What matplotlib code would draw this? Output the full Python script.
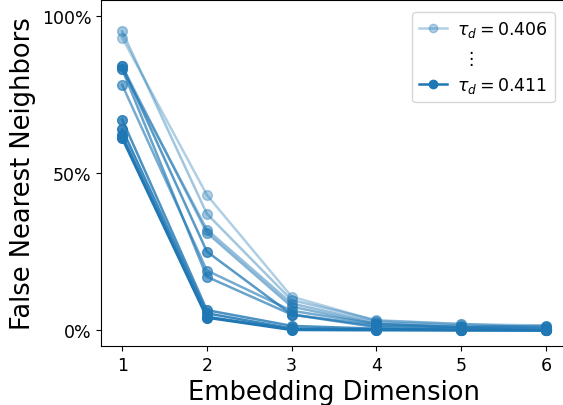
import numpy as np
import matplotlib
matplotlib.use("Agg")
import matplotlib.pyplot as plt
from matplotlib.lines import Line2D

dims = [1, 2, 3, 4, 5, 6]
taus = [0.406, 0.4065, 0.407, 0.4075, 0.408, 0.4085, 0.409, 0.4095, 0.410, 0.4105, 0.411]

fnn_0406 = [93, 43, 10.7, 3.0, 2.0, 1.5]
fnn_04065 = [95, 37, 9.6, 3.2, 2.0, 1.0]
fnn_0407 = [83, 32, 8.5, 2.5, 1.5, 1.0]
fnn_04075 = [84, 31, 7.5, 2.0, 1.0, 1.5]
fnn_0408 = [78, 19, 6.2, 2.0, 1.0, 0.5]
fnn_04085 = [83, 17, 5.0, 1.5, 1.0, 0.5]
fnn_0409 = [84, 25, 5.0, 1.0, 0.5, 0.0]
fnn_04095 = [67, 6.4, 1.4, 0.5, 0.2, 0.0]
fnn_0410 = [64, 5.4, 0.6, 0.3, 0.1, 0.0]
fnn_04105 = [62, 4.3, 0.3, 0.2, 0.0, 0.0]
fnn_0411 = [61, 4.0, 0.1, 0.0, 0.0, 0.0]

series = [fnn_0406, fnn_04065, fnn_0407, fnn_04075, fnn_0408, fnn_04085,
          fnn_0409, fnn_04095, fnn_0410, fnn_04105, fnn_0411]

color = "#1f77b4"
alphas = np.linspace(0.35, 1.0, len(series))

fig = plt.figure(figsize=(5.63, 4.06), dpi=100)
ax = fig.add_axes([101 / 563, 59 / 406, 466 / 563, 346 / 406])

for vals, a in zip(series, alphas):
    ax.plot(dims, vals, "-o", color=color, alpha=a, lw=1.8, markersize=7)

ax.set_xlim(0.75, 6.25)
ax.set_ylim(-5, 105)
ax.set_xticks(dims)
ax.set_yticks([0, 50, 100])
ax.set_yticklabels(["0%", "50%", "100%"])
ax.tick_params(labelsize=12.5)
ax.set_xlabel("Embedding Dimension", fontsize=18.5)
ax.set_ylabel("False Nearest Neighbors", fontsize=18.5)

h_first = Line2D([], [], color=color, alpha=alphas[0], lw=1.8, marker="o", markersize=6)
h_mid = Line2D([], [], linestyle="none")
h_last = Line2D([], [], color=color, alpha=1.0, lw=1.8, marker="o", markersize=6)
ax.legend([h_first, h_mid, h_last],
          [r"$\tau_d = 0.406$", r" $\vdots$", r"$\tau_d = 0.411$"],
          loc="upper right", fontsize=12.5, borderaxespad=0.7,
          handlelength=1.6, handletextpad=0.6, borderpad=0.4)

fig.savefig("out.png", dpi=100)
